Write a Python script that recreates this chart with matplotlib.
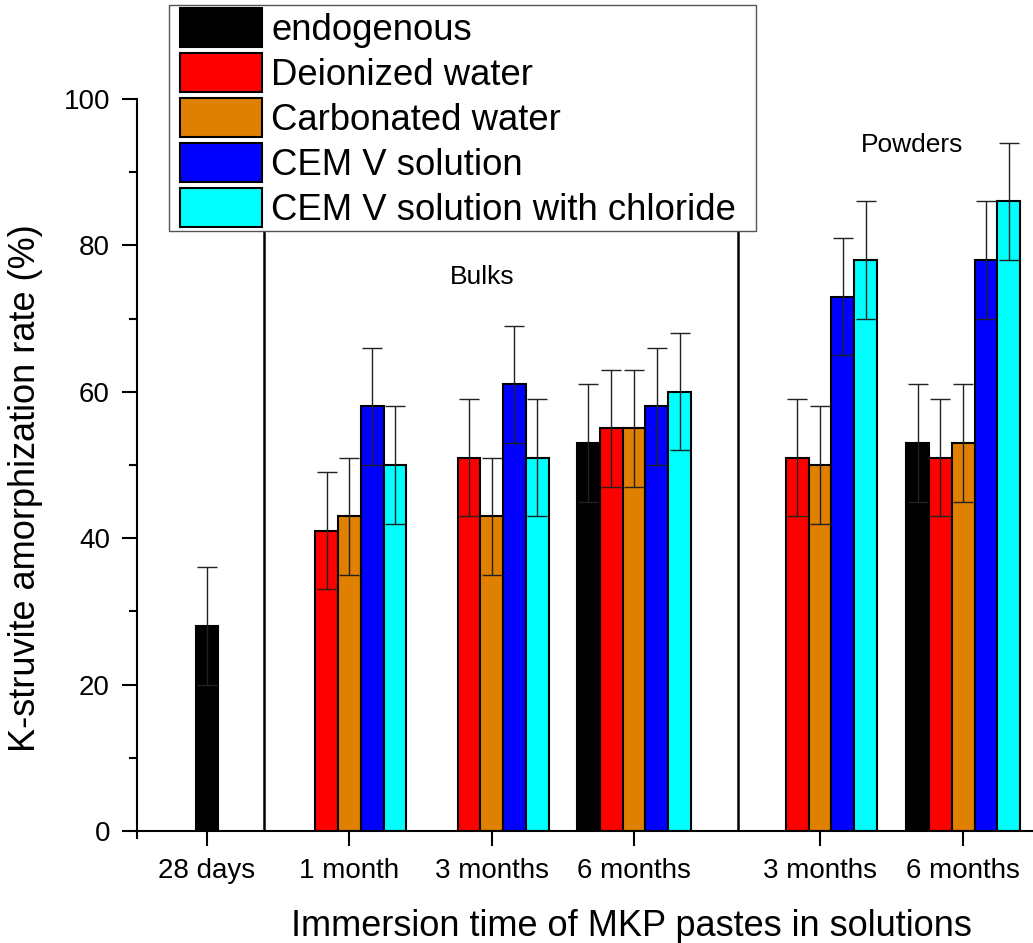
import numpy as np
import matplotlib
matplotlib.use("Agg")
import matplotlib.pyplot as plt
from matplotlib.patches import Rectangle

plt.rcParams["font.family"] = ["Liberation Sans", "DejaVu Sans"]

# groups along the x axis (bulks then powders)
groups = ["28 days", "1 month", "3 months", "6 months", "3 months", "6 months"]
positions = [0, 1, 2, 3, 4.307, 5.312]

series_names = ["endogenous", "Deionized water", "Carbonated water",
                "CEM V solution", "CEM V solution with chloride"]
colors = ["#000000", "#FF0000", "#E08000", "#0000FF", "#00FFFF"]

nan = np.nan
endogenous = [28, nan, nan, 53, nan, 53]
deionized = [nan, 41, 51, 55, 51, 51]
carbonated = [nan, 43, 43, 55, 50, 53]
cem_v = [nan, 58, 61, 58, 73, 78]
cem_v_cl = [nan, 50, 51, 60, 78, 86]
err = 8

values = [endogenous, deionized, carbonated, cem_v, cem_v_cl]

W, H = 1033, 943
fig = plt.figure(figsize=(W / 100, H / 100), dpi=100)
ax = fig.add_axes([137 / W, 112 / H, 896 / W, 732 / H])

w = 0.16
pos = np.array(positions)
n_present = np.sum(~np.isnan(np.array(values, dtype=float)), axis=0)
for k, (name, vals, c) in enumerate(zip(series_names, values, colors)):
    vals = np.array(vals, dtype=float)
    # a group with a single bar is centred on its tick
    xs = np.where(n_present == 1, pos, pos + (k - 2) * w)
    m = ~np.isnan(vals)
    ax.bar(xs[m], vals[m], width=w, color=c, edgecolor="black",
           linewidth=1.5, label=name, zorder=2)
    ax.errorbar(xs[m], vals[m], yerr=err, fmt="none", ecolor="#222222",
                elinewidth=1.0, capsize=7, capthick=1.0, zorder=3)

# separators between 28 days / bulks / powders
for xv in [0.40, 3.73]:
    ax.axvline(xv, color="black", lw=1.8, zorder=1)

ax.text(1.93, 75.7, "Bulks", fontsize=19, ha="center", va="center")
ax.text(4.95, 93.7, "Powders", fontsize=19, ha="center", va="center")

ax.set_xlim(-0.492, 5.803)
ax.set_ylim(0, 100)
ax.set_xticks(positions)
ax.set_xticklabels(groups, fontsize=20)
ax.set_xticks([-0.492], minor=True)
ax.set_yticks([0, 20, 40, 60, 80, 100])
ax.set_yticks([10, 30, 50, 70, 90], minor=True)
ax.tick_params(axis="y", labelsize=20)
ax.tick_params(which="major", direction="out", length=10.5, width=1.5, pad=9)
ax.tick_params(which="minor", direction="out", length=6, width=1.5)
ax.tick_params(axis="y", which="major", pad=9)

for s in ["top", "right"]:
    ax.spines[s].set_visible(False)
for s in ["left", "bottom"]:
    ax.spines[s].set_linewidth(1.5)

ax.set_ylabel("K-struvite amorphization rate (%)", fontsize=26)
ax.yaxis.set_label_coords(-0.105, 0.469)
ax.set_xlabel("Immersion time of MKP pastes in solutions", fontsize=26)
ax.xaxis.set_label_coords(0.552, -0.106)

# legend box drawn by hand so the padding can differ per side
fig.patches.append(Rectangle((169 / W, 1 - 231 / H), 587 / W, 226 / H,
                             transform=fig.transFigure, facecolor="white",
                             edgecolor="#555555", lw=1.0, zorder=4))
leg = fig.legend(loc="upper left", bbox_to_anchor=(180 / W, 1 - 8 / H),
                 fontsize=26.3, frameon=False, handlelength=2.25,
                 handleheight=1.25, labelspacing=0.15, borderpad=0,
                 handletextpad=0.25, borderaxespad=0)
leg.set_zorder(5)

fig.savefig("out.png", dpi=100)
